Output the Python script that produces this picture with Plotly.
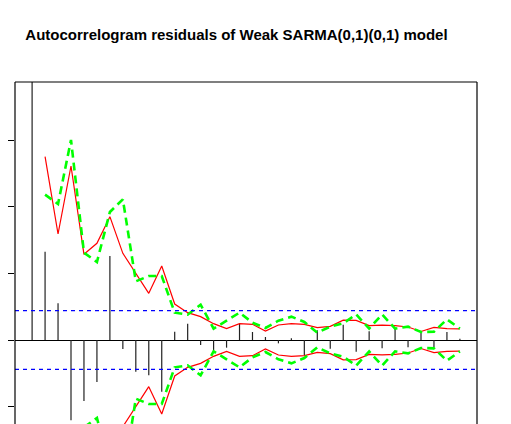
import plotly.graph_objects as go

# lags and residual autocorrelations
lags = list(range(0, 34))
acf = [1.0, 0.1325, 0.055, -0.1205, -0.0915, -0.063, 0.126, -0.0135, -0.0475, -0.053,
       -0.0775, 0.0125, 0.0245, -0.0075, -0.016, -0.0115, 0.0245, 0.012, 0.0045, -0.005,
       0.0025, -0.0225, 0.0145, -0.013, 0.023, -0.0175, 0.013, -0.0125, 0.0175, -0.011,
       0.0135, -0.0105, 0.012, 0.002]

# confidence bands (lags 1..33), drawn +/- around zero
band_lags = list(range(1, 34))
weak_band = [0.275, 0.159, 0.261, 0.1285, 0.145, 0.185, 0.130, 0.101, 0.070, 0.111,
             0.054, 0.041, 0.035, 0.0245, 0.017, 0.0245, 0.0235, 0.0135, 0.0225, 0.0245,
             0.0235, 0.0185, 0.0205, 0.0298, 0.0295, 0.0215, 0.0222, 0.0215, 0.0195, 0.0128,
             0.019, 0.017, 0.0167]
alt_band = [0.218, 0.204, 0.300, 0.131, 0.117, 0.192, 0.211, 0.088, 0.096, 0.096,
            0.041, 0.038, 0.053, 0.017, 0.029, 0.041, 0.026, 0.018, 0.029, 0.035,
            0.027, 0.011, 0.020, 0.025, 0.0385, 0.017, 0.0385, 0.017, 0.020, 0.012,
            0.0125, 0.031, 0.017]
strong_bound = 0.044

title = "Autocorrelogram residuals of Weak SARMA(0,1)(0,1) model"

# vertical spikes as one segmented line
seg_x, seg_y = [], []
for lag, r in zip(lags, acf):
    seg_x += [lag, lag, None]
    seg_y += [0, r, None]

fig = go.Figure()
fig.add_trace(go.Scatter(x=seg_x, y=seg_y, mode="lines",
                         line=dict(color="#222222", width=1.2)))

for sign in (1, -1):
    fig.add_trace(go.Scatter(x=band_lags, y=[sign * v for v in weak_band], mode="lines",
                             line=dict(color="#ff0000", width=1.2)))
    fig.add_trace(go.Scatter(x=band_lags, y=[sign * v for v in alt_band], mode="lines",
                             line=dict(color="#00ff00", width=2.6, dash="8px,5px")))

for sign in (1, -1):
    fig.add_hline(y=sign * strong_bound, line=dict(color="#0000ff", width=1.2, dash="4px,4px"))

# box: left, top, right (bottom is outside the picture)
for x0, y0, x1, y1 in [(0, 0, 0, 1), (0, 1, 1, 1), (1, 0, 1, 1)]:
    fig.add_shape(type="line", xref="paper", yref="paper", x0=x0, y0=y0, x1=x1, y1=y1,
                  line=dict(color="black", width=1.2))

# page body adds an 8px margin, so the figure is 8px smaller
fig.update_layout(
    width=503, height=416,
    margin=dict(l=7, r=34, t=74, b=0),
    paper_bgcolor="white", plot_bgcolor="white",
    showlegend=False,
    title=dict(text="<b>" + title + "</b>", x=0.4794, xref="paper", xanchor="center",
               y=0.935, yref="container", yanchor="middle",
               font=dict(family="Liberation Sans, Arial", size=15, color="black")),
)
fig.update_xaxes(range=[-1.32, 34.32], showgrid=False, zeroline=False, showline=False,
                 ticks="", showticklabels=False)
fig.update_yaxes(range=[-0.126, 0.387], showgrid=False, showline=False,
                 zeroline=True, zerolinecolor="black", zerolinewidth=1.4,
                 tickvals=[-0.1, 0, 0.1, 0.2, 0.3], ticks="outside", ticklen=8,
                 tickcolor="black", tickwidth=1.2, showticklabels=False)

fig.write_html("out.html")
